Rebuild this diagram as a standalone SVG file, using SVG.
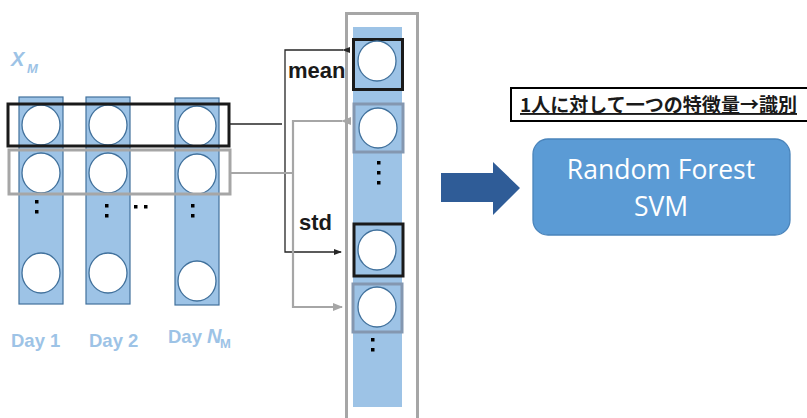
<svg xmlns="http://www.w3.org/2000/svg" width="807" height="418" viewBox="0 0 807 418">
<style>
.col{fill:#9dc3e6;stroke:#41719c;stroke-width:1.2}
.cir{fill:#fff;stroke:#41719c;stroke-width:1.3}
.dot{fill:#000}
.lbl{font-family:"Liberation Sans",Arial,sans-serif;font-weight:bold;fill:#9dc3e6}
.blk{fill:none;stroke:#1a1a1a;stroke-width:3}
.gry{fill:none;stroke:#a6a6a6;stroke-width:3}
.cb{fill:none;stroke:#262626;stroke-width:1.3}
.cg{fill:none;stroke:#a6a6a6;stroke-width:2.2}
.tb{font-family:"Liberation Sans",Arial,sans-serif;font-weight:bold;font-size:22px;fill:#1a1a1a}
</style>
<defs>
<marker id="ab" markerWidth="8" markerHeight="8" refX="7" refY="4" orient="auto" markerUnits="userSpaceOnUse"><path d="M0,1 L8,4 L0,7 z" fill="#262626"/></marker>
<marker id="ag" markerWidth="10" markerHeight="10" refX="9" refY="5" orient="auto" markerUnits="userSpaceOnUse"><path d="M0,1 L10,5 L0,9 z" fill="#a6a6a6"/></marker>
</defs>

<g id="xm-label">
<text class="lbl" x="11" y="66" font-size="20" font-style="italic">X</text>
<text class="lbl" x="27" y="73" font-size="13" font-style="italic">M</text>
</g>

<g id="day1">
<rect class="col" x="19" y="97" width="44" height="207"/>
<ellipse class="cir" cx="41" cy="125" rx="19" ry="20"/>
<ellipse class="cir" cx="41" cy="173" rx="19" ry="20"/>
<rect class="dot" x="35" y="200" width="3.5" height="3.5"/>
<rect class="dot" x="35" y="210" width="3.5" height="3.5"/>
<ellipse class="cir" cx="41" cy="273" rx="19" ry="20"/>
<text class="lbl" x="11" y="347" font-size="18.5">Day 1</text>
</g>

<g id="day2">
<rect class="col" x="86" y="97" width="44" height="207"/>
<ellipse class="cir" cx="108" cy="125" rx="19" ry="20"/>
<ellipse class="cir" cx="108" cy="173" rx="19" ry="20"/>
<rect class="dot" x="105" y="204" width="3.5" height="3.5"/>
<rect class="dot" x="105" y="214" width="3.5" height="3.5"/>
<ellipse class="cir" cx="108" cy="273" rx="19" ry="20"/>
<text class="lbl" x="89" y="347" font-size="18.5">Day 2</text>
</g>

<g id="ellipsis">
<rect class="dot" x="134" y="205" width="3.5" height="3.5"/>
<rect class="dot" x="144" y="205" width="3.5" height="3.5"/>
</g>

<g id="dayN">
<rect class="col" x="175" y="98" width="44" height="207"/>
<ellipse class="cir" cx="197" cy="126" rx="19" ry="20"/>
<ellipse class="cir" cx="197" cy="174" rx="19" ry="20"/>
<rect class="dot" x="191" y="204" width="3.5" height="3.5"/>
<rect class="dot" x="191" y="214" width="3.5" height="3.5"/>
<ellipse class="cir" cx="197" cy="281" rx="19" ry="20"/>
<text class="lbl" x="168" y="343" font-size="18.5">Day <tspan font-style="italic" font-size="20">N</tspan></text>
<text class="lbl" x="220" y="348" font-size="13">M</text>
</g>

<g id="row-selections">
<rect class="blk" x="8" y="104" width="221" height="42"/>
<rect class="gry" x="9" y="150" width="221" height="44"/>
</g>

<g id="feature-vector">
<rect x="346.5" y="13.5" width="71" height="420" fill="none" stroke="#a6a6a6" stroke-width="3"/>
<rect x="353" y="27" width="49" height="380" fill="#9dc3e6"/>
<rect x="353.5" y="39.5" width="49" height="50" fill="none" stroke="#1a1a1a" stroke-width="3"/>
<ellipse class="cir" cx="377" cy="61" rx="19" ry="20"/>
<rect x="354" y="104" width="49" height="48" fill="none" stroke="#8497b0" stroke-width="3"/>
<ellipse class="cir" cx="378" cy="128" rx="19" ry="20"/>
<rect class="dot" x="377" y="161" width="3.5" height="3.5"/>
<rect class="dot" x="377" y="171" width="3.5" height="3.5"/>
<rect class="dot" x="377" y="181" width="3.5" height="3.5"/>
<rect x="354" y="224" width="49" height="52" fill="none" stroke="#1a1a1a" stroke-width="3"/>
<ellipse class="cir" cx="377" cy="250" rx="19" ry="20"/>
<rect x="353" y="284" width="49" height="48" fill="none" stroke="#8497b0" stroke-width="3"/>
<ellipse class="cir" cx="377" cy="307" rx="19" ry="20"/>
<rect class="dot" x="371" y="338" width="3.5" height="3.5"/>
<rect class="dot" x="371" y="348" width="3.5" height="3.5"/>
</g>

<g id="connectors">
<polyline class="cb" points="229,124 282,124"/>
<polyline class="cb" points="343,50 285,50 285,252 341,252" marker-start="url(#ab)" marker-end="url(#ab)"/>
<polyline class="cg" points="230,173 293,173"/>
<polyline class="cg" points="342,121 293,121 293,307 342,307" marker-start="url(#ag)" marker-end="url(#ag)"/>
<text class="tb" x="288" y="78">mean</text>
<text class="tb" x="299" y="230">std</text>
</g>

<g id="big-arrow">
<path d="M441,173 L493,173 L493,162 L520,188 L493,215 L493,202 L441,202 z" fill="#2f5c97"/>
</g>

<g id="note">
<rect x="511" y="88" width="300" height="33" fill="#fff" stroke="#000" stroke-width="2"/>
<text x="520" y="112" font-family="'Noto Sans CJK JP',sans-serif" font-weight="bold" font-size="19" fill="#1a1a1a" text-decoration="underline" textLength="277" lengthAdjust="spacingAndGlyphs">1人に対して一つの特徴量→識別</text>
</g>

<g id="classifier">
<rect x="533" y="139" width="257" height="96" rx="15" fill="#5b9bd5" stroke="#4a84bb" stroke-width="1.3"/>
<text x="661" y="179" text-anchor="middle" font-family="'Open Sans',sans-serif" font-size="26.5" fill="#fff">Random Forest</text>
<text x="661" y="216" text-anchor="middle" font-family="'Open Sans',sans-serif" font-size="26.5" fill="#fff">SVM</text>
</g>
</svg>
